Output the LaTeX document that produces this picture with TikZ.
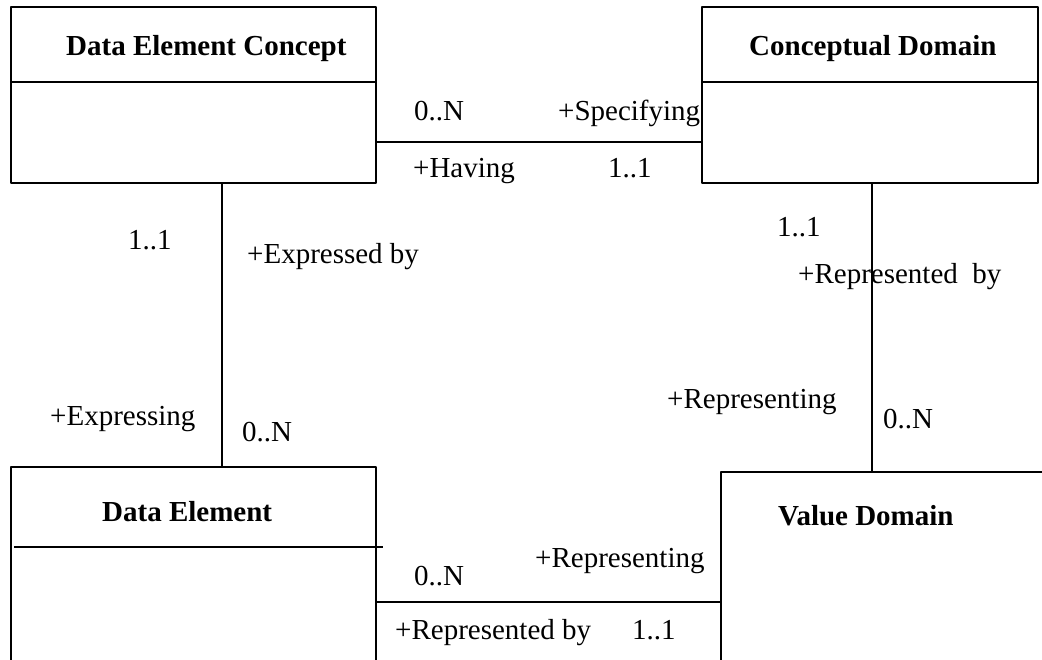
\documentclass[tikz,border=0pt]{standalone}
\usepackage{fontspec}
\setmainfont{Liberation Serif}
\usetikzlibrary{positioning}

\tikzset{
  classbox/.style={draw, line width=1.8pt, inner sep=0pt},
  classname/.style={font=\fontsize{29}{34}\selectfont\bfseries, inner sep=0pt, anchor=base west},
  role/.style={font=\fontsize{29}{34}\selectfont, inner sep=0pt, anchor=base west},
  link/.style={line width=1.8pt},
}

\begin{document}
\begin{tikzpicture}[x=1pt,y=-1pt,line join=round]
    \useasboundingbox (0,0) rectangle (1042,659);
    \clip (0,0) rectangle (1042,659);
    % classes
    \node[classbox, minimum width=365pt, minimum height=176pt] (dec) at (193.5,95) {};
    \node[classbox, minimum width=336pt, minimum height=176pt] (cd) at (870,95) {};
    \node[classbox, minimum width=365pt, minimum height=233pt] (de) at (193.5,583.5) {};
    \node[classbox, minimum width=359pt, minimum height=228pt] (vd) at (900.5,586) {};
    % compartments
    \draw[link] ([yshift=-76pt]dec.north west) -- ([yshift=-76pt]dec.north east);
    \draw[link] ([yshift=-76pt]cd.north west) -- ([yshift=-76pt]cd.north east);
    \draw[link] ([xshift=4pt,yshift=-81pt]de.north west) -- ([xshift=6pt,yshift=-81pt]de.north east);
    % names
    \node[classname] (decname) at (66,55) {Data Element Concept};
    \node[classname] (cdname) at (749,55) {Conceptual Domain};
    \node[classname] (dename) at (102,521) {Data Element};
    \node[classname] (vdname) at (778,525) {Value Domain};
    % associations
    \draw[link] ([yshift=42pt]dec.south east) -- ([yshift=42pt]cd.south west);
    \draw[link] ([xshift=28.5pt]dec.south) -- ([xshift=28.5pt]de.north);
    \draw[link] ([xshift=2pt]cd.south) -- ([xshift=2pt]cd.south |- vd.north);
    \draw[link] ([yshift=-136pt]de.north east) -- ([yshift=-136pt]de.north east -| vd.west);
    % roles and multiplicities
    \node[role] (m1) at (414,120) {0..N};
    \node[role] (r1) at (558,120) {+Specifying};
    \node[role] (r2) at (413,177) {+Having};
    \node[role] (m2) at (608,177) {1..1};
    \node[role] (m3) at (128,249) {1..1};
    \node[role] (r3) at (247,263) {+Expressed by};
    \node[role] (r4) at (50,425) {+Expressing};
    \node[role] (m4) at (242,441) {0..N};
    \node[role] (m5) at (777,236) {1..1};
    \node[role] (r5) at (798,283) {+Represented\ \ by};
    \node[role] (r6) at (667,408) {+Representing};
    \node[role] (m6) at (883,428) {0..N};
    \node[role] (m7) at (414,585) {0..N};
    \node[role] (r7) at (535,567) {+Representing};
    \node[role] (r8) at (395,639) {+Represented by};
    \node[role] (m8) at (632,639) {1..1};
\end{tikzpicture}
\end{document}
